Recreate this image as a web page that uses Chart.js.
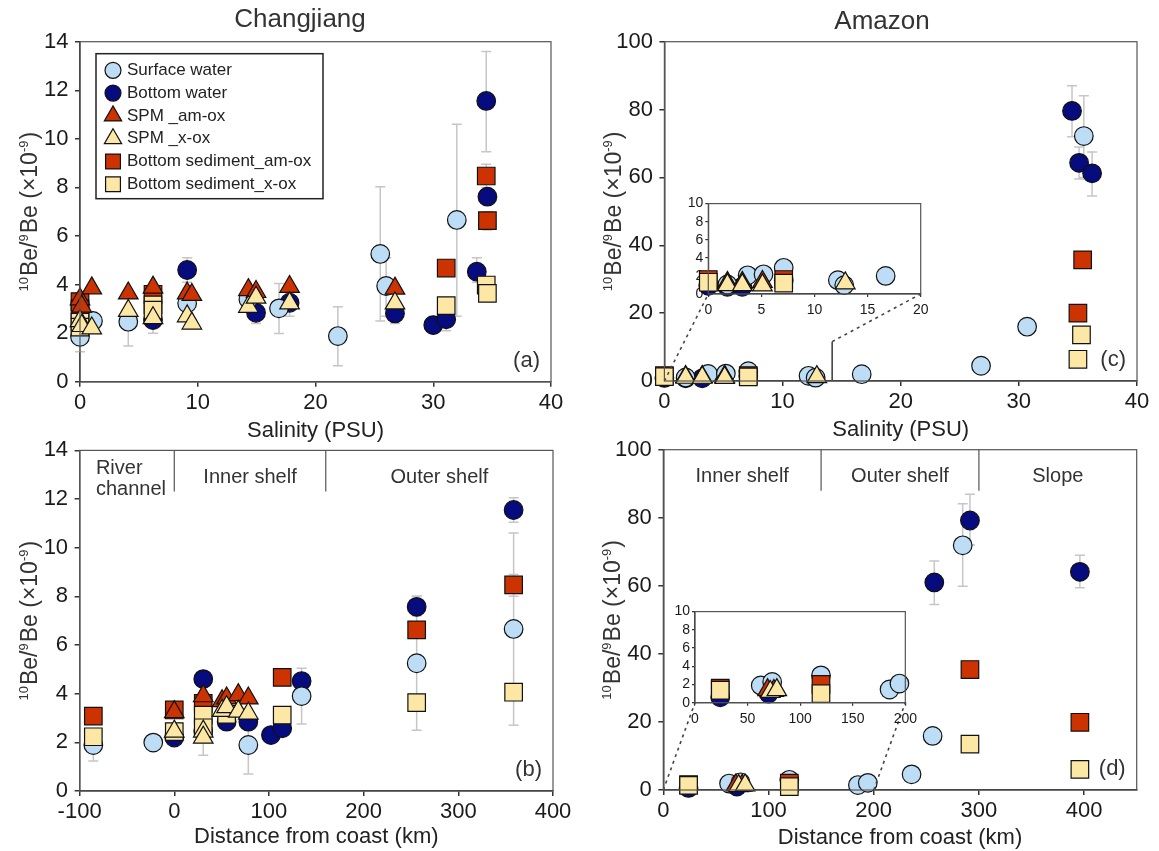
<!DOCTYPE html>
<html>
<head>
<meta charset="utf-8">
<title>10Be/9Be ratios, Changjiang and Amazon</title>
<script src="https://cdn.jsdelivr.net/npm/chart.js@4.4.1/dist/chart.umd.min.js"></script>
<style>
  html, body { margin: 0; padding: 0; background: #fff; }
  #fig { position: relative; width: 1159px; height: 851px; overflow: hidden; background: #fff; }
  #fig canvas { position: absolute; }
</style>
</head>
<body>
<div id="fig">
  <canvas id="cvA" width="600" height="450" style="left:0px;top:0px"></canvas>
  <canvas id="cvB" width="600" height="421" style="left:0px;top:430px"></canvas>
  <canvas id="cvC" width="574" height="450" style="left:585px;top:0px"></canvas>
  <canvas id="cvD" width="574" height="421" style="left:585px;top:430px"></canvas>
  <canvas id="cvCi" width="260" height="130" style="left:675px;top:190px"></canvas>
  <canvas id="cvDi" width="260" height="130" style="left:662px;top:598px"></canvas>
</div>
<script>
// ---------- series ----------
const SERIES = ['Surface water', 'Bottom water', 'SPM _am-ox', 'SPM _x-ox',
                'Bottom sediment_am-ox', 'Bottom sediment_x-ox'];

// Each point: [x, 10Be/9Be (x10^-9), error low, error high]

// Changjiang vs salinity (PSU)
const cjSalSurface = [[0, 1.85, 1.23, 2.47], [1.1, 2.5], [4.1, 2.47, 1.47, 3.47], [9.1, 3.23],
                      [14.3, 3.4], [16.9, 3.02, 1.98, 4.04], [21.9, 1.88, 0.66, 3.09],
                      [25.5, 5.26, 2.5, 8.03], [26.0, 3.94, 2.7, 5.1], [32.0, 6.66, 2.7, 10.6]];
const cjSalBottom  = [[6.2, 2.54, 2.0, 3.1], [9.1, 4.6, 4.1, 5.1], [14.95, 2.84, 2.4, 3.3],
                      [17.8, 3.25, 2.7, 3.8], [26.75, 2.81, 2.4, 3.2], [30.0, 2.33, 1.98, 2.7],
                      [31.1, 2.57, 2.1, 3.0], [33.7, 4.53, 4.1, 5.1], [34.6, 7.62],
                      [34.5, 11.56, 9.47, 13.6]];
const cjSalSpmAm   = [[0, 3.4], [0.15, 3.1], [1.0, 3.85], [4.1, 3.64], [6.2, 3.88], [9.1, 3.64],
                      [9.5, 3.58], [14.3, 3.78], [14.95, 3.7], [17.8, 3.91], [26.75, 3.84]];
const cjSalSpmX    = [[0, 2.5], [0.15, 2.3], [1.0, 2.2], [4.1, 2.92], [6.2, 2.62], [9.1, 2.7],
                      [9.5, 2.4], [14.3, 3.09], [14.95, 3.47], [17.8, 3.23], [26.75, 3.23]];
const cjSalSedAm   = [[0, 3.3], [0, 3.0], [6.2, 3.6], [31.1, 4.68], [34.5, 8.47, 8.0, 8.95],
                      [34.6, 6.63, 6.25, 7.0]];
const cjSalSedX    = [[0, 2.45], [0, 2.25], [6.2, 3.16], [6.2, 2.95], [31.1, 3.13], [34.5, 3.98],
                      [34.6, 3.64]];

// Changjiang vs distance from coast (km)
const cjDistSurface = [[-85.5, 1.89, 1.23, 2.55], [-22.2, 1.99, 1.75, 2.3], [30.6, 2.47, 1.47, 3.47],
                       [78.2, 1.89, 0.7, 3.05], [134.5, 3.9, 2.75, 5.05], [256, 5.25, 2.5, 8.0],
                       [358.4, 6.66, 2.7, 10.6]];
const cjDistBottom  = [[0, 2.2], [30.6, 4.6], [55.3, 2.85], [78.2, 2.85], [102.1, 2.3], [114, 2.58],
                       [134.5, 4.52], [256, 7.57, 7.2, 8.0], [358.4, 11.55, 11.05, 12.05]];
const cjDistSpmAm   = [[0, 3.25], [30.6, 3.9], [50.5, 3.7], [55.3, 3.81], [67.6, 3.95], [78.2, 3.81]];
const cjDistSpmX    = [[0, 2.45], [30.6, 2.45], [30.6, 2.2], [50.5, 3.3], [55.3, 3.45], [67.6, 3.27],
                       [78.2, 3.19]];
const cjDistSedAm   = [[-85.5, 3.08], [0, 3.33], [30.6, 3.6], [114, 4.67], [256, 6.62],
                       [358.4, 8.47, 8.0, 8.9]];
const cjDistSedX    = [[-85.5, 2.23], [0, 2.44], [30.6, 3.12], [30.6, 2.6], [55.3, 3.15], [114, 3.12],
                       [256, 3.63], [358.4, 4.06]];

// Amazon vs salinity (PSU)
const amSalSurface = [[1.8, 1.05], [3.7, 2.07], [5.2, 2.18], [7.1, 2.9], [12.2, 1.53], [12.8, 0.98],
                      [16.7, 2.0], [26.8, 4.5], [30.7, 16.0], [35.5, 72.2, 60.0, 84.1]];
const amSalBottom  = [[0, 0.9], [1.8, 0.8], [3.2, 0.8], [7.1, 1.5], [34.5, 79.6, 72.0, 87.0],
                      [35.1, 64.3, 59.5, 69.0], [36.2, 61.2, 54.5, 67.5]];
const amSalSpmAm   = [[1.8, 1.25], [3.2, 1.25], [5.1, 1.35]];
const amSalSpmX    = [[1.8, 1.0], [3.2, 1.0], [5.1, 0.97], [12.9, 1.2]];
const amSalSedAm   = [[0, 1.6], [7.1, 1.6], [35.4, 35.7], [35.0, 20.0]];
const amSalSedX    = [[0, 1.3], [7.1, 1.2], [35.3, 13.6], [35.0, 6.4]];

// Amazon vs distance from coast (km)
const amDistSurface = [[62.5, 1.9], [73.4, 2.27], [119.8, 3.0], [185, 1.45], [194.4, 2.1], [236, 4.6],
                       [256, 15.9], [284.6, 71.9, 59.9, 84.1]];
const amDistBottom  = [[24, 0.6], [70, 1.0], [257.6, 61.0, 54.5, 67.3], [291.5, 79.2, 72.0, 86.9],
                       [396, 64.1, 59.4, 69.0]];
const amDistSpmAm   = [[69, 1.4], [75, 1.3]];
const amDistSpmX    = [[71.6, 1.2], [77.8, 1.4]];
const amDistSedAm   = [[24, 1.6], [119.8, 2.0], [291.5, 35.4], [396, 19.9]];
const amDistSedX    = [[24, 1.37], [119.8, 1.0], [291.5, 13.5], [396, 6.07]];

// ---------- ticks ----------
const salinityTicks   = [0, 10, 20, 30, 40];
const cjDistTicks     = [-100, 0, 100, 200, 300, 400];
const amDistTicks     = [0, 100, 200, 300, 400];
const cjRatioTicks    = [0, 2, 4, 6, 8, 10, 12, 14];
const amRatioTicks    = [0, 20, 40, 60, 80, 100];
const zoomRatioTicks  = [0, 2, 4, 6, 8, 10];
const zoomSalTicks    = [0, 5, 10, 15, 20];
const zoomDistTicks   = [0, 50, 100, 150, 200];

// ---------- shelf zones ----------
const cjZones     = ['River channel', 'Inner shelf', 'Outer shelf'];
const cjZoneEdges = [-100, 0, 160, 400];
const amZones     = ['Inner shelf', 'Outer shelf', 'Slope'];
const amZoneEdges = [0, 150, 300, 450];

// upper end of the zoomed salinity window on the Amazon plot
const amSalZoomEdge = [14.2, 11.6];

// ---------- styling ----------
const FONT = "'Liberation Sans', Arial, Helvetica, sans-serif";
Chart.defaults.font.family = FONT;
Chart.defaults.color = '#1a1a1a';

const STYLE = [
  { shape: 'circle',   fill: '#bddcf5', r: 9.3,  lr: 8,    order: 5 },
  { shape: 'circle',   fill: '#060b7e', r: 9.3,  lr: 8,    order: 6 },
  { shape: 'triangle', fill: '#cc3300', r: 11.3, lr: 10,   order: 2 },
  { shape: 'triangle', fill: '#fde7a4', r: 11.3, lr: 10,   order: 1 },
  { shape: 'rect',     fill: '#cc3300', r: 12.4, lr: 10.5, order: 4 },
  { shape: 'rect',     fill: '#fde7a4', r: 12.4, lr: 10.5, order: 3 }
];

function drawMarker(ctx, st, x, y, s) {
  ctx.beginPath();
  if (st.shape === 'circle') {
    ctx.arc(x, y, s, 0, Math.PI * 2);
  } else if (st.shape === 'triangle') {
    ctx.moveTo(x, y - s);
    ctx.lineTo(x + s * 0.866, y + s * 0.5);
    ctx.lineTo(x - s * 0.866, y + s * 0.5);
    ctx.closePath();
  } else {
    const h = s * 0.7071;
    ctx.rect(x - h, y - h, 2 * h, 2 * h);
  }
  ctx.fillStyle = st.fill;
  ctx.fill();
  ctx.lineWidth = 1.2;
  ctx.strokeStyle = '#111';
  ctx.stroke();
}

function drawRatioTitle(ctx, cx, cy) {
  const parts = [['10', 1], ['Be/', 0], ['9', 1], ['Be (\u00d710', 0], ['-9', 1], [')', 0]];
  const nf = '23px ' + FONT, sf = '13px ' + FONT;
  ctx.save();
  ctx.translate(cx, cy);
  ctx.rotate(-Math.PI / 2);
  let total = 0;
  parts.forEach(([t, s]) => { ctx.font = s ? sf : nf; total += ctx.measureText(t).width + (s ? 1 : 0); });
  let x = -total / 2;
  ctx.fillStyle = '#333';
  ctx.textBaseline = 'alphabetic';
  ctx.textAlign = 'left';
  parts.forEach(([t, s]) => {
    ctx.font = s ? sf : nf;
    ctx.fillText(t, x, s ? -1 : 8);
    x += ctx.measureText(t).width + (s ? 1 : 0);
  });
  ctx.restore();
}

const SPECS = {};

const decor = {
  id: 'decor',
  beforeDatasetsDraw(chart) {
    // error bars behind the markers
    const xs = chart.scales.x, ys = chart.scales.y, ctx = chart.ctx;
    ctx.save();
    ctx.strokeStyle = '#c6c6c6';
    ctx.lineWidth = 1.5;
    chart.data.datasets.forEach(ds => {
      ds.data.forEach(p => {
        if (p.lo == null) return;
        const x = xs.getPixelForValue(p.x);
        const y1 = ys.getPixelForValue(p.lo), y2 = ys.getPixelForValue(p.hi);
        ctx.beginPath();
        ctx.moveTo(x, y1); ctx.lineTo(x, y2);
        ctx.moveTo(x - 5, y1); ctx.lineTo(x + 5, y1);
        ctx.moveTo(x - 5, y2); ctx.lineTo(x + 5, y2);
        ctx.stroke();
      });
    });
    ctx.restore();
  },
  afterDatasetsDraw(chart) {
    const p = SPECS[chart.canvas.id];
    if (!p || !p.zoom) return;
    const ctx = chart.ctx, xs = chart.scales.x, ys = chart.scales.y;
    const inset = Chart.getChart(p.zoom.inset);
    if (!inset) return;
    const icv = inset.canvas, cv = chart.canvas;
    const dx = icv.offsetLeft - cv.offsetLeft, dy = icv.offsetTop - cv.offsetTop;
    const ia = inset.chartArea;
    const corners = [[dx + ia.left, dy + ia.bottom], [dx + ia.right, dy + ia.bottom]];
    ctx.save();
    ctx.strokeStyle = '#444';
    ctx.lineWidth = 1.6;
    if (p.zoom.guide) {
      const gx = xs.getPixelForValue(p.zoom.guide[0]);
      ctx.beginPath();
      ctx.moveTo(gx, ys.getPixelForValue(0));
      ctx.lineTo(gx, ys.getPixelForValue(p.zoom.guide[1]));
      ctx.stroke();
    }
    ctx.setLineDash([3, 4]);
    p.zoom.from.forEach((pt, i) => {
      ctx.beginPath();
      ctx.moveTo(xs.getPixelForValue(pt[0]), ys.getPixelForValue(pt[1]));
      ctx.lineTo(corners[i][0], corners[i][1]);
      ctx.stroke();
    });
    ctx.restore();
  },
  afterDraw(chart) {
    const p = SPECS[chart.canvas.id];
    if (!p) return;
    const ctx = chart.ctx, a = chart.chartArea, xs = chart.scales.x;
    ctx.save();
    // plot frame
    ctx.strokeStyle = '#555';
    ctx.lineWidth = 1.2;
    ctx.strokeRect(a.left, a.top, a.right - a.left, a.bottom - a.top);

    if (p.title) {
      ctx.font = '26px ' + FONT;
      ctx.fillStyle = '#333';
      ctx.textAlign = 'center';
      ctx.textBaseline = 'middle';
      ctx.fillText(p.title, p.titleX, p.titleY);
    }
    if (!p.inset) drawRatioTitle(ctx, a.left - 51, (a.top + a.bottom) / 2);

    if (p.letter) {
      ctx.font = '22px ' + FONT;
      ctx.fillStyle = '#333';
      ctx.textAlign = 'right';
      ctx.textBaseline = 'middle';
      ctx.fillText(p.letter, a.right - 11, a.bottom - 21);
    }

    if (p.zones) {
      ctx.strokeStyle = '#555';
      ctx.lineWidth = 1.2;
      const edges = p.zones.edges;
      for (let i = 1; i < edges.length - 1; i++) {
        const x = xs.getPixelForValue(edges[i]);
        ctx.beginPath(); ctx.moveTo(x, a.top); ctx.lineTo(x, a.top + 41); ctx.stroke();
      }
      ctx.font = '20px ' + FONT;
      ctx.fillStyle = '#333';
      ctx.textBaseline = 'middle';
      p.zones.names.forEach((name, i) => {
        const x0 = xs.getPixelForValue(edges[i]), x1 = xs.getPixelForValue(edges[i + 1]);
        const mid = (x0 + x1) / 2;
        if (ctx.measureText(name).width > (x1 - x0) * 0.9) {
          const lines = name.split(' ');
          const bw = Math.max(...lines.map(l => ctx.measureText(l).width));
          ctx.textAlign = 'left';
          lines.forEach((l, j) => ctx.fillText(l, mid - bw / 2 + 4, a.top + 18 + j * 21));
        } else {
          ctx.textAlign = 'center';
          ctx.fillText(name, mid, a.top + 27);
        }
      });
    }

    if (p.legend) {
      const L = a.left + 16, T = a.top + 12;
      ctx.fillStyle = '#fff';
      ctx.fillRect(L, T, 227, 145);
      ctx.strokeStyle = '#222';
      ctx.lineWidth = 1.5;
      ctx.strokeRect(L, T, 227, 145);
      ctx.font = '17px ' + FONT;
      ctx.textAlign = 'left';
      ctx.textBaseline = 'middle';
      SERIES.forEach((name, i) => {
        const y = T + 16.6 + i * 22.8;
        drawMarker(ctx, STYLE[i], L + 17, y, STYLE[i].lr);
        ctx.fillStyle = '#222';
        ctx.fillText(name, L + 31, y);
      });
    }
    ctx.restore();
  }
};

function makePanel(p) {
  SPECS[p.canvas] = p;
  const cv = document.getElementById(p.canvas);
  const W = cv.width, H = cv.height, a = p.area;
  const big = !p.inset;
  const fs = big ? 22 : 14;
  const xBottom = p.xTitle ? p.xTitleY + 22 * 1.2 / 2 : H;
  const inRange = pt => pt[0] >= p.x.min && pt[0] <= p.x.max && pt[1] >= p.y.min && pt[1] <= p.y.max;
  const datasets = p.series.map((pts, i) => {
    const st = STYLE[i];
    return {
      label: SERIES[i],
      data: pts.filter(inRange).map(pt => ({ x: pt[0], y: pt[1], lo: pt[2], hi: pt[3] })),
      pointStyle: st.shape,
      pointRadius: st.r,
      pointBackgroundColor: st.fill,
      pointBorderColor: '#111',
      pointBorderWidth: 1.2,
      order: st.order,
      clip: false,
      showLine: false
    };
  });
  const axis = (rng, isX) => ({
    type: 'linear',
    position: isX ? 'bottom' : 'left',
    min: rng.min,
    max: rng.max,
    afterBuildTicks: s => { s.ticks = rng.ticks.map(v => ({ value: v })); },
    afterFit: s => { if (isX) s.height = xBottom - a.b; else s.width = a.l; },
    border: { display: true, color: '#333', width: big ? 1.5 : 1.2 },
    grid: { display: true, drawOnChartArea: false, drawTicks: true, tickLength: big ? 5 : 3,
            color: '#333', lineWidth: big ? 1.5 : 1.2 },
    ticks: { font: { size: fs }, color: '#1a1a1a', padding: isX ? (big ? 3 : 5) : (big ? 6.5 : 2),
             maxRotation: 0, minRotation: 0, autoSkip: false },
    title: { display: isX && !!p.xTitle, text: p.xTitle || '', font: { size: 22 }, color: '#222',
             padding: 0 }
  });
  return new Chart(cv, {
    type: 'scatter',
    data: { datasets },
    options: {
      responsive: false,
      animation: false,
      events: [],
      layout: { padding: { left: 0, top: a.t, right: W - a.r, bottom: H - xBottom } },
      scales: { x: axis(p.x, true), y: axis(p.y, false) },
      plugins: { legend: { display: false }, tooltip: { enabled: false } }
    },
    plugins: [decor]
  });
}

const amSal  = [amSalSurface, amSalBottom, amSalSpmAm, amSalSpmX, amSalSedAm, amSalSedX];
const amDist = [amDistSurface, amDistBottom, amDistSpmAm, amDistSpmX, amDistSedAm, amDistSedX];

// zoomed insets first, so the main plots can link to them
makePanel({ canvas: 'cvCi', inset: true, series: amSal,
            x: { min: 0, max: 20, ticks: zoomSalTicks }, y: { min: 0, max: 10, ticks: zoomRatioTicks },
            area: { l: 33.3, t: 12.3, r: 245.7, b: 104 } });
makePanel({ canvas: 'cvDi', inset: true, series: amDist,
            x: { min: 0, max: 200, ticks: zoomDistTicks }, y: { min: 0, max: 10, ticks: zoomRatioTicks },
            area: { l: 33, t: 12, r: 246.3, b: 104.7 } });

makePanel({ canvas: 'cvA', title: 'Changjiang', titleX: 300, titleY: 20, letter: '(a)', legend: true,
            series: [cjSalSurface, cjSalBottom, cjSalSpmAm, cjSalSpmX, cjSalSedAm, cjSalSedX],
            x: { min: 0, max: 40, ticks: salinityTicks }, y: { min: 0, max: 14, ticks: cjRatioTicks },
            area: { l: 80, t: 41.7, r: 551, b: 381.7 }, xTitle: 'Salinity (PSU)', xTitleY: 431 });
makePanel({ canvas: 'cvB', letter: '(b)',
            series: [cjDistSurface, cjDistBottom, cjDistSpmAm, cjDistSpmX, cjDistSedAm, cjDistSedX],
            x: { min: -100, max: 400, ticks: cjDistTicks }, y: { min: 0, max: 14, ticks: cjRatioTicks },
            zones: { names: cjZones, edges: cjZoneEdges },
            area: { l: 79.6, t: 20.4, r: 553, b: 361 }, xTitle: 'Distance from coast (km)', xTitleY: 407 });
makePanel({ canvas: 'cvC', title: 'Amazon', titleX: 297, titleY: 22, letter: '(c)', series: amSal,
            x: { min: 0, max: 40, ticks: salinityTicks }, y: { min: 0, max: 100, ticks: amRatioTicks },
            zoom: { inset: 'cvCi', from: [[0, 0], amSalZoomEdge], guide: amSalZoomEdge },
            area: { l: 79.4, t: 41.7, r: 552, b: 381 }, xTitle: 'Salinity (PSU)', xTitleY: 430 });
makePanel({ canvas: 'cvD', letter: '(d)', series: amDist,
            x: { min: 0, max: 450, ticks: amDistTicks }, y: { min: 0, max: 100, ticks: amRatioTicks },
            zones: { names: amZones, edges: amZoneEdges },
            zoom: { inset: 'cvDi', from: [[0, 0], [200, 0]] },
            area: { l: 78.3, t: 19.3, r: 551.7, b: 360 }, xTitle: 'Distance from coast (km)', xTitleY: 408 });
</script>
</body>
</html>
